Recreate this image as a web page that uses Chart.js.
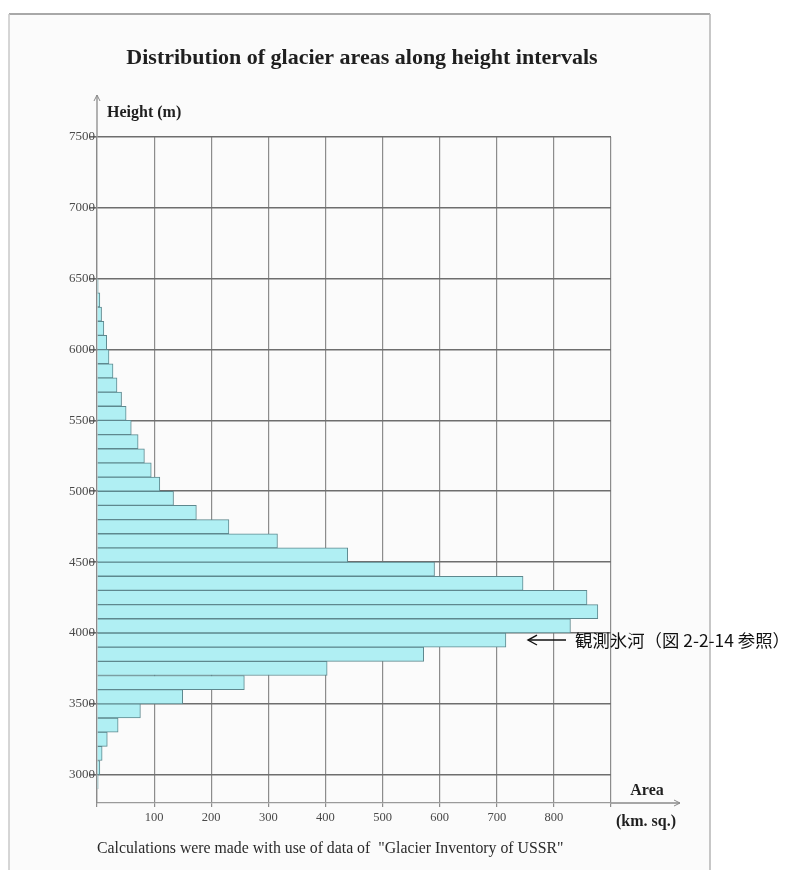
<!DOCTYPE html>
<html>
<head>
<meta charset="utf-8">
<script src="https://cdn.jsdelivr.net/npm/chart.js@4"></script>
<style>
  html, body { margin: 0; padding: 0; background: #ffffff; }
  canvas { display: block; }
</style>
</head>
<body>
<canvas id="glaciers" width="795" height="870"></canvas>
<script>
// Lower bound of each 100 m height interval (m)
const heightBands = [2900, 3000, 3100, 3200, 3300, 3400, 3500, 3600, 3700, 3800,
                     3900, 4000, 4100, 4200, 4300, 4400, 4500, 4600, 4700, 4800,
                     4900, 5000, 5100, 5200, 5300, 5400, 5500, 5600, 5700, 5800,
                     5900, 6000, 6100, 6200, 6300, 6400];
// Glacier area within each interval (km. sq.)
const areaKm2 = [2, 5, 9, 18, 37, 76, 150, 258, 403, 572,
                 716, 829, 877, 858, 746, 591, 439, 316, 231, 174,
                 134, 110, 95, 83, 72, 60, 51, 43, 35, 28,
                 21, 17, 12, 8, 5, 2];
const bandSize = 100;

// Axis ticks
const heightTicks = [3000, 3500, 4000, 4500, 5000, 5500, 6000, 6500, 7000, 7500];
const areaTicks = [0, 100, 200, 300, 400, 500, 600, 700, 800, 900];
const areaTickLabels = ['', '100', '200', '300', '400', '500', '600', '700', '800', ''];

const SERIF = '"Liberation Serif", "DejaVu Serif", serif';

function arrowHead(ctx, x, y, dir, size) {
  ctx.beginPath();
  if (dir === 'up') {
    ctx.moveTo(x - size * 0.5, y + size);
    ctx.lineTo(x, y);
    ctx.lineTo(x + size * 0.5, y + size);
  } else if (dir === 'right') {
    ctx.moveTo(x - size, y - size * 0.5);
    ctx.lineTo(x, y);
    ctx.lineTo(x - size, y + size * 0.5);
  } else {
    ctx.moveTo(x + size, y - size * 0.55);
    ctx.lineTo(x, y);
    ctx.lineTo(x + size, y + size * 0.55);
  }
  ctx.stroke();
}

// Sheet background, headings, axis arrows and the side note
const decorations = {
  id: 'decorations',
  beforeDraw(chart) {
    const ctx = chart.ctx;
    ctx.save();
    ctx.fillStyle = '#ffffff';
    ctx.fillRect(0, 0, chart.width, chart.height);
    // paper sheet
    ctx.fillStyle = '#fbfbfb';
    ctx.fillRect(9, 14, 701, chart.height - 14);
    ctx.strokeStyle = '#a8a8a8';
    ctx.lineWidth = 2;
    ctx.beginPath();
    ctx.moveTo(9, 14); ctx.lineTo(710, 14);
    ctx.stroke();
    ctx.lineWidth = 1.5;
    ctx.strokeStyle = '#c9c9c9';
    ctx.beginPath();
    ctx.moveTo(9, 14); ctx.lineTo(9, chart.height);
    ctx.stroke();
    ctx.strokeStyle = '#b5b5b5';
    ctx.beginPath();
    ctx.moveTo(710, 14); ctx.lineTo(710, chart.height);
    ctx.stroke();
    ctx.restore();
  },
  afterDraw(chart) {
    const ctx = chart.ctx;
    const xs = chart.scales.x, ys = chart.scales.y;
    const x0 = xs.getPixelForValue(0);
    const yTop = ys.getPixelForValue(7500);
    const yBase = ys.getPixelForValue(2800);
    const xEnd = xs.getPixelForValue(900);
    ctx.save();

    // axis extensions with arrows
    ctx.strokeStyle = '#8a8a8a';
    ctx.lineWidth = 1.3;
    ctx.beginPath();
    ctx.moveTo(x0, yTop); ctx.lineTo(x0, yTop - 42);
    ctx.moveTo(xEnd, yBase); ctx.lineTo(xEnd + 69, yBase);
    ctx.stroke();
    ctx.lineWidth = 1;
    arrowHead(ctx, x0, yTop - 42, 'up', 6);
    arrowHead(ctx, xEnd + 69, yBase, 'right', 6);

    ctx.fillStyle = '#1f1f1f';
    ctx.textBaseline = 'alphabetic';

    // title
    ctx.font = 'bold 22px ' + SERIF;
    ctx.textAlign = 'center';
    ctx.fillText('Distribution of glacier areas along height intervals', 362, 64);

    // axis names
    ctx.font = 'bold 16px ' + SERIF;
    ctx.textAlign = 'left';
    ctx.fillText('Height (m)', 107, 117);
    ctx.textAlign = 'center';
    ctx.fillText('Area', 647, 795);
    ctx.fillText('(km. sq.)', 646, 826);

    // source note
    ctx.font = '15.8px ' + SERIF;
    ctx.textAlign = 'left';
    ctx.fillStyle = '#2a2a2a';
    ctx.fillText('Calculations were made with use of data of  "Glacier Inventory of USSR"', 97, 853);

    // side note pointing to the observed glacier band
    const yNote = ys.getPixelForValue(3950);
    ctx.strokeStyle = '#111111';
    ctx.lineWidth = 1.4;
    ctx.beginPath();
    ctx.moveTo(528, yNote); ctx.lineTo(566, yNote);
    ctx.stroke();
    arrowHead(ctx, 528, yNote, 'left', 9);
    ctx.fillStyle = '#111111';
    ctx.font = '17px "Noto Sans CJK JP", sans-serif';
    ctx.textAlign = 'left';
    ctx.textBaseline = 'middle';
    const note = '観測氷河（図 2-2-14 参照）';
    const w = ctx.measureText(note).width;
    const sx = 215 / w;
    ctx.translate(575, yNote + 1);
    ctx.scale(sx, 1);
    ctx.fillText(note, 0, 0);

    ctx.restore();
  }
};

new Chart(document.getElementById('glaciers'), {
  type: 'bar',
  data: {
    datasets: [{
      data: heightBands.map((h, i) => ({ x: areaKm2[i], y: h + bandSize / 2 })),
      backgroundColor: 'rgb(176, 239, 243)',
      borderColor: 'rgb(94, 136, 142)',
      borderWidth: 1,
      borderSkipped: 'start',
      barPercentage: 1,
      categoryPercentage: 1
    }]
  },
  options: {
    indexAxis: 'y',
    responsive: false,
    animation: false,
    layout: { padding: { left: 0, top: 137, right: 184, bottom: 27 } },
    plugins: {
      legend: { display: false },
      tooltip: { enabled: false },
      title: { display: false }
    },
    scales: {
      x: {
        type: 'linear',
        min: 0,
        max: 900,
        z: 1,
        offset: false,
        afterBuildTicks: (s) => { s.ticks = areaTicks.map(v => ({ value: v })); },
        afterFit: (s) => { s.height = 40; },
        ticks: {
          callback: (v) => areaTickLabels[areaTicks.indexOf(v)],
          font: { family: SERIF, size: 12.5 },
          color: '#4a4a4a',
          padding: 3,
          maxRotation: 0
        },
        grid: { color: '#8c8c8c', lineWidth: 1.2, tickLength: 4, drawTicks: true, offset: false },
        border: { display: true, color: '#9a9a9a', width: 1.3 }
      },
      y: {
        type: 'linear',
        min: 2800,
        max: 7500,
        z: 1,
        offset: false,
        afterBuildTicks: (s) => { s.ticks = heightTicks.map(v => ({ value: v })); },
        afterFit: (s) => { s.width = 97; },
        ticks: {
          callback: (v) => String(v),
          font: { family: SERIF, size: 13 },
          color: '#4a4a4a',
          padding: -6
        },
        grid: { color: '#6e6e6e', lineWidth: 1.6, tickLength: 8, drawTicks: true, offset: false },
        border: { display: true, color: '#8a8a8a', width: 1.3 }
      }
    }
  },
  plugins: [decorations]
});
</script>
</body>
</html>
